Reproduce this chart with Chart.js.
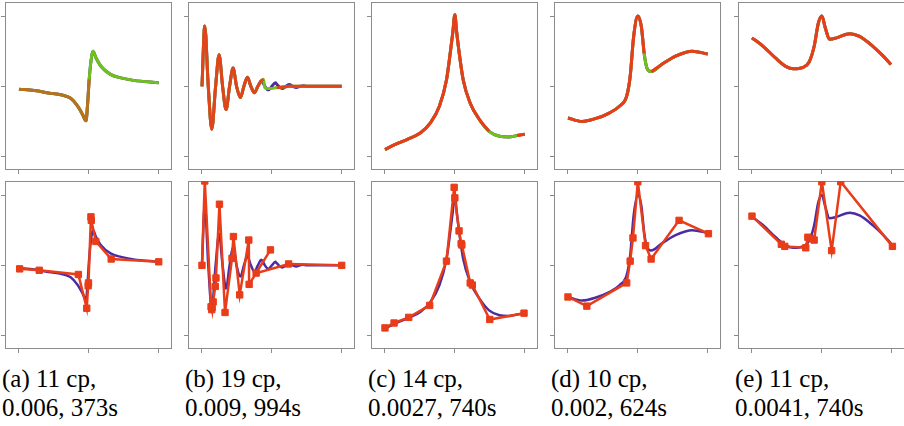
<!DOCTYPE html>
<html>
<head>
<meta charset="utf-8">
<script src="https://cdn.jsdelivr.net/npm/chart.js@4.4.1/dist/chart.umd.min.js"></script>
<style>
  html, body { margin: 0; padding: 0; background: #fff; }
  #fig { position: relative; width: 904px; height: 426px; overflow: hidden; }
  .panel { position: absolute; }
  .cap {
    position: absolute;
    top: 364px;
    font-family: "Liberation Serif", serif;
    font-size: 25px;
    line-height: 29px;
    color: #000;
    white-space: nowrap;
  }
</style>
</head>
<body>
<div id="fig"></div>
<script>
// ---- data ----
const tickVals = [-1, 0, 1];
const captionLine1 = ['(a) 11 cp,', '(b) 19 cp,', '(c) 14 cp,', '(d) 10 cp,', '(e) 11 cp,'];
const captionLine2 = ['0.006, 373s', '0.009, 994s', '0.0027, 740s', '0.002, 624s', '0.0041, 740s'];

// (a)
const aX = [-1, -0.78, -0.54, -0.4, -0.26, -0.16, -0.09, -0.04, -0.02, 0.005, 0.04, 0.06, 0.10, 0.17, 0.31, 0.46, 0.64, 1.0];
const aY = [-0.04, -0.06, -0.10, -0.12, -0.17, -0.28, -0.40, -0.49, -0.28, 0.10, 0.43, 0.50, 0.41, 0.29, 0.17, 0.12, 0.085, 0.05];
const aGreenOnly = [[0.005, 1.0]];
const aCpX = [-0.99, -0.71, -0.15, -0.03, -0.01, -0.005, 0.03, 0.035, 0.10, 0.32, 1.0];
const aCpY = [-0.05, -0.07, -0.13, -0.61, -0.29, -0.25, 0.69, 0.64, 0.34, 0.09, 0.05];

// (b)
const bX = [-1, -0.96, -0.91, -0.86, -0.805, -0.755, -0.705, -0.655, -0.605, -0.555, -0.505, -0.45, -0.40, -0.35, -0.30, -0.25, -0.20, -0.15, -0.12, -0.10, -0.05, 0, 0.05, 0.07, 0.10, 0.15, 0.20, 0.25, 0.30, 0.35, 0.40, 0.45, 0.50, 0.60, 0.70, 0.85, 1.0];
const bY = [0, 0.86, 0, -0.61, 0, 0.45, 0, -0.33, 0, 0.26, 0, -0.16, 0, 0.13, 0, -0.09, 0, 0.08, 0.04, 0, -0.05, 0, 0.05, 0.03, 0, -0.03, 0, 0.025, 0, -0.015, 0, 0.01, 0, 0, 0, 0, 0];
const bFitY = [0, 0.86, 0, -0.61, 0, 0.45, 0, -0.33, 0, 0.26, 0, -0.16, 0, 0.13, 0, -0.09, 0, 0.08, 0.10, -0.02, -0.03, -0.03, -0.02, -0.02, -0.015, -0.01, -0.005, 0, 0, 0, 0, 0, 0, 0, 0, 0, 0];
const bGreenOnly = [[-0.12, 0.07]];
const bCpX = [-1, -0.96, -0.87, -0.86, -0.855, -0.84, -0.81, -0.80, -0.75, -0.67, -0.57, -0.55, -0.46, -0.33, -0.325, -0.02, -0.225, 0.24, 1.0];
const bCpY = [0, 1.2, -0.59, -0.63, -0.60, -0.52, -0.30, -0.18, 0.87, -0.67, 0.10, 0.41, -0.42, 0.36, -0.27, 0.22, -0.11, 0.02, 0];

// (c)
const cX = [-1, -0.86, -0.67, -0.49, -0.35, -0.22, -0.12, -0.06, -0.03, 0, 0.025, 0.05, 0.12, 0.22, 0.35, 0.49, 0.64, 0.77, 0.89, 1.0];
const cY = [-0.90, -0.83, -0.75, -0.66, -0.52, -0.28, 0.09, 0.52, 0.76, 1.02, 0.78, 0.57, 0.09, -0.24, -0.47, -0.64, -0.71, -0.72, -0.70, -0.68];
const cGreenOnly = [[0.49, 0.89]];
const cCpX = [-1, -0.87, -0.66, -0.36, -0.12, -0.01, 0, 0.06, 0.09, 0.10, 0.22, 0.25, 0.50, 0.99];
const cCpY = [-0.89, -0.82, -0.74, -0.57, 0.06, 1.11, 0.96, 0.49, 0.31, 0.29, -0.25, -0.28, -0.77, -0.68];

// (d)
const dX = [-1, -0.80, -0.61, -0.41, -0.26, -0.16, -0.11, -0.06, 0, 0.05, 0.09, 0.13, 0.19, 0.34, 0.54, 0.78, 1.0];
const dY = [-0.45, -0.50, -0.46, -0.38, -0.28, -0.14, 0.14, 0.71, 1.0, 0.85, 0.47, 0.26, 0.21, 0.31, 0.43, 0.50, 0.46];
const dGreenOnly = [[0.09, 0.19]];
const dCpX = [-1, -0.73, -0.16, -0.11, -0.07, 0, 0.11, 0.19, 0.59, 1.01];
const dCpY = [-0.45, -0.58, -0.25, 0.06, 0.39, 1.19, 0.28, 0.09, 0.64, 0.45];

// (e)
const eX = [-1, -0.84, -0.66, -0.51, -0.41, -0.27, -0.18, -0.11, -0.05, 0, 0.05, 0.11, 0.21, 0.40, 0.54, 0.73, 0.88, 0.99];
const eY = [0.69, 0.57, 0.40, 0.28, 0.25, 0.27, 0.35, 0.57, 0.90, 1.0, 0.83, 0.67, 0.69, 0.75, 0.71, 0.57, 0.43, 0.31];
const eGreenOnly = [];
const eCpX = [-1, -0.58, -0.53, -0.23, -0.20, -0.15, -0.11, 0, 0.14, 0.27, 1.01];
const eCpY = [0.70, 0.30, 0.27, 0.25, 0.40, 0.38, 0.36, 1.19, 0.21, 1.19, 0.27];

const panels = [
    { x: aX, y: aY, fit: aY, greenOnly: aGreenOnly, cpX: aCpX, cpY: aCpY },
    { x: bX, y: bY, fit: bFitY, greenOnly: bGreenOnly, cpX: bCpX, cpY: bCpY },
    { x: cX, y: cY, fit: cY, greenOnly: cGreenOnly, cpX: cCpX, cpY: cCpY },
    { x: dX, y: dY, fit: dY, greenOnly: dGreenOnly, cpX: dCpX, cpY: dCpY },
    { x: eX, y: eY, fit: eY, greenOnly: eGreenOnly, cpX: eCpX, cpY: eCpY }
];

// ---- layout / style ----
const frameLeft = [5, 188, 371, 554, 738];
const rowTop = [2, 181];
const frameW = 167;
const frameH = 168;
const purple = '#4b2ca3';
const green = '#6fc21a';
const red = '#e93c18';
const redAlpha = [0.6, 0.95, 1, 1, 1];
const gray = '#8c8c8c';

const toPoints = (xs, ys) => xs.map((x, i) => ({ x: x, y: ys[i] }));

// grey box round the plot area
const framePlugin = {
    id: 'frame',
    beforeDatasetsDraw(chart) {
        const { ctx, chartArea: a } = chart;
        ctx.save();
        ctx.strokeStyle = gray;
        ctx.lineWidth = 1;
        ctx.strokeRect(a.left + 0.5, a.top + 0.5, a.right - a.left - 1, a.bottom - a.top - 1);
        ctx.restore();
    }
};

const axis = (min, max) => ({
    type: 'linear',
    min: min,
    max: max,
    afterBuildTicks: s => { s.ticks = tickVals.map(v => ({ value: v })); },
    ticks: { display: false },
    grid: { drawOnChartArea: false, drawTicks: true, tickLength: 4, tickColor: gray, lineWidth: 1 },
    border: { display: false }
});

const fig = document.getElementById('fig');

const makeChart = (left, top, datasets) => {
    const canvas = document.createElement('canvas');
    canvas.className = 'panel';
    canvas.width = 4 + frameW + 1;
    canvas.height = 1 + frameH + 4;
    canvas.style.left = (left - 4) + 'px';
    canvas.style.top = (top - 1) + 'px';
    canvas.style.width = canvas.width + 'px';
    canvas.style.height = canvas.height + 'px';
    fig.appendChild(canvas);
    new Chart(canvas.getContext('2d'), {
        type: 'line',
        data: { datasets: datasets },
        options: {
            responsive: false,
            animation: false,
            events: [],
            spanGaps: false,
            layout: { autoPadding: false, padding: { top: 1, right: 1, left: 0, bottom: 0 } },
            plugins: { legend: { display: false }, tooltip: { enabled: false } },
            scales: { x: axis(-1.2, 1.19), y: axis(-1.19, 1.2) }
        },
        plugins: [framePlugin]
    });
};

const hexToRgba = (hex, a) => {
    const n = parseInt(hex.slice(1), 16);
    return `rgba(${n >> 16}, ${(n >> 8) & 255}, ${n & 255}, ${a})`;
};

panels.forEach((p, i) => {
    const inGreenOnly = x => p.greenOnly.some(r => x > r[0] && x < r[1]);
    const redY = p.fit.map((v, k) => (inGreenOnly(p.x[k]) ? null : v));

    // top row: target (purple), fit (green), fit shown in red where it is drawn
    makeChart(frameLeft[i], rowTop[0], [
        {
            data: toPoints(p.x, redY),
            borderColor: hexToRgba(red, redAlpha[i]),
            borderWidth: 3,
            pointRadius: 0,
            cubicInterpolationMode: 'monotone'
        },
        {
            data: toPoints(p.x, p.fit),
            borderColor: green,
            borderWidth: 3,
            pointRadius: 0,
            cubicInterpolationMode: 'monotone'
        },
        {
            data: toPoints(p.x, p.y),
            borderColor: purple,
            borderWidth: 3,
            pointRadius: 0,
            cubicInterpolationMode: 'monotone'
        }
    ]);

    // bottom row: control polygon over the target curve
    makeChart(frameLeft[i], rowTop[1], [
        {
            data: toPoints(p.cpX, p.cpY),
            borderColor: red,
            borderWidth: 2.5,
            tension: 0,
            pointStyle: 'rect',
            pointRadius: 4.5,
            pointBackgroundColor: red,
            pointBorderColor: red,
            pointBorderWidth: 1
        },
        {
            data: toPoints(p.x, p.y),
            borderColor: purple,
            borderWidth: 2.5,
            pointRadius: 0,
            cubicInterpolationMode: 'monotone'
        }
    ]);

    const cap = document.createElement('div');
    cap.className = 'cap';
    cap.style.left = (frameLeft[i] - 3) + 'px';
    cap.innerHTML = captionLine1[i] + '<br>' + captionLine2[i];
    fig.appendChild(cap);
});
</script>
</body>
</html>
